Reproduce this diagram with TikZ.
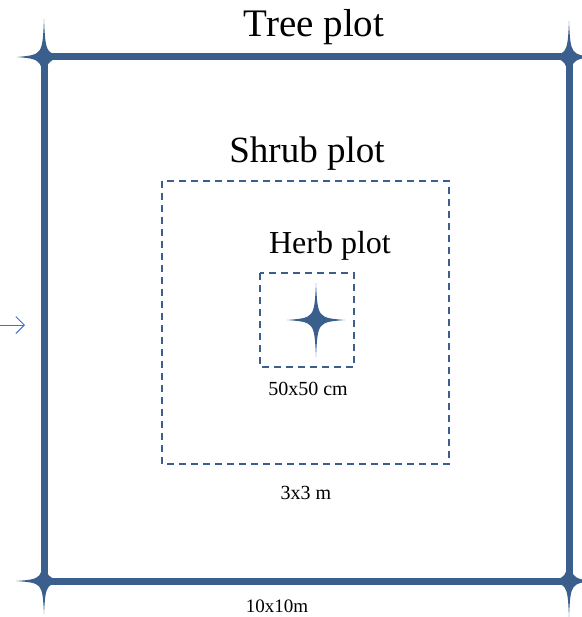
\documentclass[tikz,border=0pt]{standalone}
\usepackage{fontspec}
\setmainfont{Liberation Serif}
\usetikzlibrary{arrows.meta}
\definecolor{plotblue}{RGB}{58,95,140}
\definecolor{arrowblue}{RGB}{68,114,196}
\begin{document}
\begin{tikzpicture}[x=1pt,y=-1pt,
  plotstar/.pic={\fill[plotblue] (-1,0) .. controls (-0.06,-0.06) .. (0,-1) .. controls (0.06,-0.06) .. (1,0)
     .. controls (0.06,0.06) .. (0,1) .. controls (-0.06,0.06) .. (-1,0) -- cycle;},
  outerline/.style={draw=plotblue,line width=7pt,line join=miter},
  innerline/.style={draw=plotblue,line width=1.8pt,dash pattern=on 7pt off 5pt},
  every node/.style={inner sep=0pt,text=black}]
\useasboundingbox (0,0) rectangle (581,617);
% tree plot
\draw[outerline] (44,57) rectangle (569,581);
\pic[xscale=27,yscale=38] at (44,57) {plotstar};
\pic[xscale=27,yscale=36] at (569,57) {plotstar};
\pic[xscale=28,yscale=33] at (44,581) {plotstar};
\pic[xscale=27,yscale=36] at (569,581) {plotstar};
% shrub and herb plot
\draw[innerline] (162,181) rectangle (449,464);
\draw[innerline] (260,273) rectangle (354,367);
\pic[xscale=29,yscale=37] at (316,320) {plotstar};
% labels
\node[anchor=base,font=\fontsize{39}{41}\selectfont] (treelabel) at (314,37) {Tree plot};
\node[anchor=base,font=\fontsize{37}{39}\selectfont] (shrublabel) at (307,163) {Shrub plot};
\node[anchor=base,font=\fontsize{32}{34}\selectfont] (herblabel) at (330,253) {Herb plot};
\node[anchor=base,font=\fontsize{20}{22}\selectfont] (herbsize) at (308,395) {50x50 cm};
\node[anchor=base,font=\fontsize{20}{22}\selectfont] (shrubsize) at (306,499) {3x3 m};
\node[anchor=base,font=\fontsize{19}{21}\selectfont] (treesize) at (277,612) {10x10m};
% arrow
\coordinate (arrowtail) at (0,325);
\coordinate (arrowhead) at (25,325);
\draw[arrowblue,line width=1pt,-{Straight Barb[angle=90:12pt]}] (arrowtail) -- (arrowhead);
\end{tikzpicture}
\end{document}
